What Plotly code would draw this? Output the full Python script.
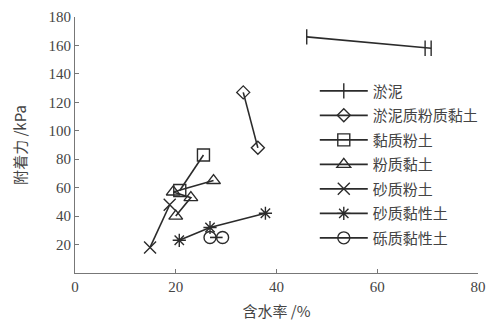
import plotly.graph_objects as go

# Water content (%) and adhesion (kPa) for each soil type
series_names = ["淤泥", "淤泥质粉质黏土", "黏质粉土", "粉质黏土", "砂质粉土", "砂质黏性土", "砾质黏性土"]

yuni_x = [46.0, 69.5, 70.7]
yuni_y = [166, 158, 158]

yuni_fzn_x = [33.4, 36.3]
yuni_fzn_y = [127, 88]

nzfz_x = [20.8, 25.5]
nzfz_y = [58, 83]

fznt_x = [20.0, 23.0, 19.5, 27.5]
fznt_y = [40, 53, 57, 65]

szfz_x = [14.9, 18.8]
szfz_y = [18, 48]

sznx_x = [20.7, 26.8, 37.8]
sznx_y = [23, 32, 42]

lznx_x = [26.8, 29.3]
lznx_y = [25, 25]

x_ticks = [0, 20, 40, 60, 80]
y_ticks = [20, 40, 60, 80, 100, 120, 140, 160, 180]

symbols = ["line-ns", "diamond-open", "square-open", "triangle-up-open",
           "x-thin", "asterisk-open", "circle-open"]
sizes = [11, 10, 12, 12, 12, 11, 12]
xs = [yuni_x, yuni_fzn_x, nzfz_x, fznt_x, szfz_x, sznx_x, lznx_x]
ys = [yuni_y, yuni_fzn_y, nzfz_y, fznt_y, szfz_y, sznx_y, lznx_y]

ink = "#2b2b2b"
fig = go.Figure()
for i, name in enumerate(series_names):
    fig.add_trace(go.Scatter(
        x=xs[i], y=ys[i], name=name, mode="lines+markers",
        legendgroup=name,
        line=dict(color=ink, width=1.6),
        marker=dict(symbol=symbols[i], size=sizes[i], color=ink,
                    line=dict(color=ink, width=1.4)),
    ))

num_font = dict(family="Liberation Serif, Times New Roman, serif", size=15, color="#444")
cjk = "Noto Sans CJK SC, Liberation Serif, serif"

fig.update_layout(
    width=495, height=327,
    margin=dict(l=75, r=9, t=15, b=54),
    paper_bgcolor="white", plot_bgcolor="white",
    showlegend=True,
    legend=dict(x=0.595, y=0.775, xanchor="left", yanchor="top",
                font=dict(family=cjk, size=15, color="#444"),
                bgcolor="rgba(0,0,0,0)", tracegroupgap=2, itemwidth=48),
    xaxis=dict(range=[0, 80], tickvals=x_ticks, ticks="inside", ticklen=4,
               tickcolor="#777", showline=True, linecolor="#777", linewidth=1,
               showgrid=False, zeroline=False, tickfont=num_font,
               title=dict(text="含水率 /%", font=dict(family=cjk, size=15, color="#444"),
                          standoff=12)),
    yaxis=dict(range=[0, 180], tickvals=y_ticks, ticks="inside", ticklen=4,
               tickcolor="#777", showline=True, linecolor="#777", linewidth=1,
               showgrid=False, zeroline=False, tickfont=num_font,
               title=dict(text="附着力 /kPa", font=dict(family=cjk, size=15, color="#444"),
                          standoff=18)),
)

fig.write_html("out.html")
